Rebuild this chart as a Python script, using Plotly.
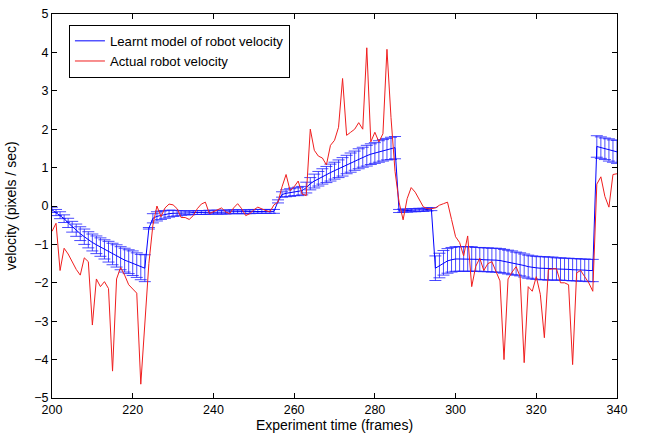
import plotly.graph_objects as go

frames = list(range(200, 341))

actual_velocity = [
    -0.66, -0.45, -1.68, -1.10, -1.25, -1.45, -1.65, -1.80, -1.35, -1.45,
    -3.10, -1.90, -2.10, -1.97, -2.15, -4.30, -1.90, -1.60, -1.80, -2.05,
    -2.15, -2.27, -4.64, -3.00, -1.50, -0.50, 0.00, -0.28, -0.05, 0.05,
    0.03, -0.07, -0.30, -0.30, -0.35, -0.25, -0.07, 0.05, 0.10, -0.20,
    -0.15, -0.10, -0.05, -0.15, -0.20, -0.05, 0.06, -0.07, -0.25, -0.20,
    -0.10, -0.03, -0.08, -0.12, -0.15, 0.03, 0.10, 0.50, 0.82, 0.40,
    0.50, 0.65, 0.31, 0.27, 2.00, 1.45, 1.30, 1.25, 1.07, 1.58,
    1.71, 2.05, 3.32, 1.84, 1.92, 2.00, 2.17, 2.00, 4.12, 1.67,
    1.92, 1.67, 1.88, 4.08, 2.30, 0.90, 0.10, -0.36, 0.19, 0.48,
    0.36, 0.15, -0.02, -0.07, -0.07, -0.05, 0.02, 0.06, 0.10, -0.35,
    -0.80, -0.95, -1.30, -0.78, -2.10, -1.57, -1.36, -1.68, -1.50, -1.45,
    -1.72, -1.95, -4.00, -1.90, -1.72, -1.58, -1.84, -4.08, -2.10, -2.22,
    -1.84, -2.30, -3.43, -1.65, -1.64, -1.63, -2.00, -2.00, -2.05, -4.13,
    -1.74, -1.68, -1.84, -2.00, -2.22, 0.57, 0.76, 0.25, -0.03, 0.82,
    0.84,
]

model_mean = [
    # 200-223
    -0.10, -0.17, -0.24, -0.33, -0.44, -0.54, -0.63, -0.72, -0.80, -0.88,
    -0.95, -1.01, -1.07, -1.13, -1.19, -1.25, -1.30, -1.36, -1.41, -1.45,
    -1.49, -1.54, -1.59, -1.62,
    # 224-255
    -0.58, -0.32, -0.27, -0.24, -0.22, -0.20, -0.19, -0.19, -0.18, -0.18,
    -0.18, -0.17, -0.17, -0.17, -0.17, -0.16, -0.16, -0.16, -0.16, -0.16,
    -0.15, -0.15, -0.15, -0.15, -0.15, -0.15, -0.14, -0.14, -0.14, -0.14,
    -0.14, -0.14,
    # 256-285
    0.12, 0.30, 0.33, 0.35, 0.37, 0.38, 0.40, 0.48, 0.58, 0.65,
    0.71, 0.77, 0.82, 0.87, 0.92, 0.97, 1.02, 1.08, 1.13, 1.18,
    1.23, 1.27, 1.31, 1.35, 1.38, 1.42, 1.45, 1.48, 1.50, 1.52,
    # 286-294
    -0.13, -0.12, -0.12, -0.11, -0.11, -0.10, -0.10, -0.09, -0.08,
    # 295-334
    -1.62, -1.55, -1.48, -1.43, -1.40, -1.38, -1.38, -1.38, -1.38, -1.38,
    -1.39, -1.39, -1.40, -1.40, -1.41, -1.41, -1.42, -1.44, -1.46, -1.48,
    -1.50, -1.52, -1.55, -1.58, -1.60, -1.61, -1.62, -1.62, -1.63, -1.63,
    -1.64, -1.64, -1.65, -1.65, -1.66, -1.66, -1.67, -1.67, -1.68, -1.68,
    # 335-340
    1.55, 1.52, 1.49, 1.46, 1.43, 1.41,
]

model_error = [
    # 200-223
    0.07, 0.08, 0.09, 0.10, 0.12, 0.14, 0.16, 0.18, 0.20, 0.21,
    0.22, 0.23, 0.24, 0.25, 0.27, 0.28, 0.29, 0.30, 0.31, 0.31,
    0.32, 0.32, 0.33, 0.35,
    # 224-255
    0.02, 0.12, 0.12, 0.11, 0.10, 0.09, 0.08, 0.07, 0.06, 0.05,
    0.05, 0.05, 0.05, 0.05, 0.05, 0.05, 0.05, 0.05, 0.05, 0.05,
    0.05, 0.05, 0.05, 0.05, 0.05, 0.05, 0.05, 0.05, 0.05, 0.05,
    0.05, 0.05,
    # 256-285
    0.04, 0.07, 0.09, 0.10, 0.10, 0.11, 0.11, 0.14, 0.16, 0.18,
    0.19, 0.20, 0.21, 0.22, 0.22, 0.23, 0.24, 0.24, 0.25, 0.25,
    0.26, 0.26, 0.27, 0.27, 0.27, 0.28, 0.28, 0.28, 0.29, 0.29,
    # 286-294
    0.04, 0.04, 0.04, 0.04, 0.04, 0.04, 0.04, 0.04, 0.04,
    # 295-334
    0.32, 0.32, 0.32, 0.32, 0.32, 0.32, 0.32, 0.32, 0.32, 0.32,
    0.31, 0.31, 0.31, 0.31, 0.31, 0.31, 0.31, 0.31, 0.31, 0.31,
    0.30, 0.30, 0.30, 0.30, 0.30, 0.30, 0.30, 0.30, 0.30, 0.30,
    0.29, 0.29, 0.29, 0.29, 0.29, 0.29, 0.29, 0.29, 0.29, 0.29,
    # 335-340
    0.28, 0.28, 0.28, 0.29, 0.29, 0.30,
]

x_ticks = [200, 220, 240, 260, 280, 300, 320, 340]
y_ticks = [-5, -4, -3, -2, -1, 0, 1, 2, 3, 4, 5]

FONT = "Liberation Sans, Arial, Helvetica, sans-serif"

fig = go.Figure()
fig.add_trace(go.Scatter(
    x=frames, y=model_mean, mode="lines",
    name="Learnt model of robot velocity",
    line=dict(color="rgb(0,0,255)", width=1),
    error_y=dict(type="data", array=model_error, visible=True,
                 color="rgba(30,30,255,0.8)", thickness=1, width=6),
))
fig.add_trace(go.Scatter(
    x=frames, y=actual_velocity, mode="lines",
    name="Actual robot velocity",
    line=dict(color="rgb(240,30,30)", width=1),
))

axis_common = dict(
    showline=True, linecolor="black", linewidth=1, mirror="ticks",
    ticks="inside", ticklen=5, tickcolor="black",
    showgrid=False, zeroline=False, ticklabeloverflow="allow",
    tickfont=dict(family=FONT, size=12.5, color="black"),
)

fig.update_layout(
    width=651, height=437,
    margin=dict(l=52, r=34, t=7, b=37),
    paper_bgcolor="white", plot_bgcolor="white",
    font=dict(family=FONT, size=12, color="black"),
    showlegend=True,
    legend=dict(
        x=0.03, y=0.972, xanchor="left", yanchor="top",
        bgcolor="white", bordercolor="black", borderwidth=1,
        font=dict(family=FONT, size=13.2, color="black"),
        itemwidth=30, tracegroupgap=0,
    ),
    xaxis=dict(range=[200, 340], tickvals=x_ticks,
               title=dict(text="Experiment time (frames)", standoff=3,
                          font=dict(family=FONT, size=14, color="black")),
               **axis_common),
    yaxis=dict(range=[-5, 5], tickvals=y_ticks,
               title=dict(text="velocity (pixels / sec)", standoff=14,
                          font=dict(family=FONT, size=14, color="black")),
               **axis_common),
)

fig.write_html("out.html")
